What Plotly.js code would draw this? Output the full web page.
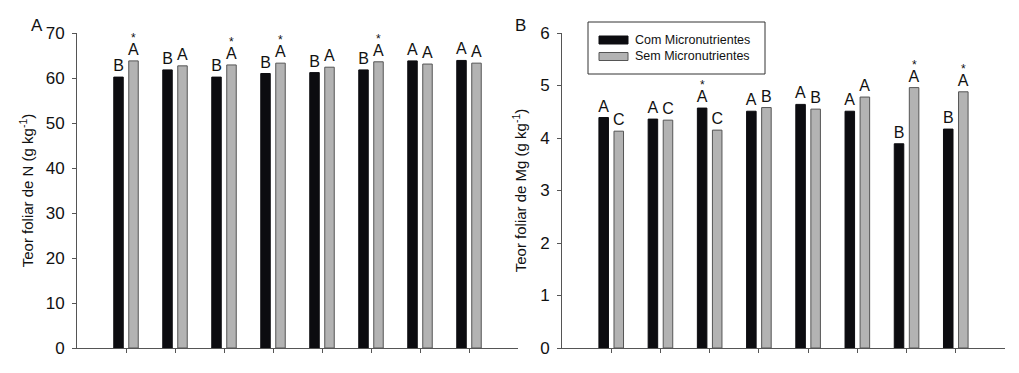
<!DOCTYPE html>
<html>
<head>
<meta charset="utf-8">
<script src="https://cdn.plot.ly/plotly-3.0.1.min.js"></script>
<style>html,body{margin:0;padding:0;background:#fff;}#chart{width:1019px;height:373px;}</style>
</head>
<body>
<div id="chart"></div>
<script>
// ---- data ----
const categories = [1, 2, 3, 4, 5, 6, 7, 8];
const seriesNames = ["Com Micronutrientes", "Sem Micronutrientes"];

const nCom = [60.2, 61.8, 60.2, 61.0, 61.2, 61.8, 63.8, 63.9];
const nSem = [63.8, 62.7, 62.9, 63.3, 62.4, 63.6, 63.1, 63.3];
const nComLetters = ["B", "B", "B", "B", "B", "B", "A", "A"];
const nSemLetters = ["A", "A", "A", "A", "A", "A", "A", "A"];
const nComStar = [0, 0, 0, 0, 0, 0, 0, 0];
const nSemStar = [1, 0, 1, 1, 0, 1, 0, 0];

const mgCom = [4.39, 4.36, 4.57, 4.51, 4.64, 4.51, 3.89, 4.17];
const mgSem = [4.13, 4.34, 4.15, 4.58, 4.55, 4.78, 4.96, 4.88];
const mgComLetters = ["A", "A", "A", "A", "A", "A", "B", "B"];
const mgSemLetters = ["C", "C", "C", "B", "B", "A", "A", "A"];
const mgComStar = [0, 0, 1, 0, 0, 0, 0, 0];
const mgSemStar = [0, 0, 0, 0, 0, 0, 1, 1];

const yTitleN = "Teor foliar de N (g kg<sup>-1</sup>)";
const yTitleMg = "Teor foliar de Mg (g kg<sup>-1</sup>)";

// ---- style ----
const FONT = "Liberation Sans, Arial, sans-serif";
const BLACK = "#0c0c10";
const GRAY = "#b3b3b3";
const AXIS = "#555555";
const ML = 77, MR = 14, MT = 33, MB = 25, W = 1019, H = 373;
const PW = W - ML - MR, PH = H - MT - MB;
const px = v => (v - ML) / PW;
const py = v => (H - MB - v) / PH;

function barTrace(x, y, name, color, lineColor, letters, xa, ya) {
  return {
    type: "bar", x: x, y: y, name: name, xaxis: xa, yaxis: ya,
    marker: {color: color, line: {color: lineColor, width: 1}},
    text: letters, textposition: "outside", constraintext: "none",
    textfont: {family: FONT, size: 16, color: "#111"},
    cliponaxis: false, showlegend: false, hoverinfo: "x+y"
  };
}

const data = [
  barTrace(categories, nCom, seriesNames[0], BLACK, BLACK, nComLetters, "x", "y"),
  barTrace(categories, nSem, seriesNames[1], GRAY, "#555", nSemLetters, "x", "y"),
  barTrace(categories, mgCom, seriesNames[0], BLACK, BLACK, mgComLetters, "x2", "y2"),
  barTrace(categories, mgSem, seriesNames[1], GRAY, "#555", mgSemLetters, "x2", "y2")
];

const annotations = [];
function stars(vals, flags, shift, xr, yr) {
  vals.forEach((v, i) => {
    if (flags[i]) annotations.push({
      x: categories[i], y: v, xref: xr, yref: yr, xshift: shift, yshift: 14,
      text: "*", showarrow: false, yanchor: "bottom",
      font: {family: FONT, size: 12, color: "#111"}
    });
  });
}
stars(nCom, nComStar, -7.5, "x", "y");
stars(nSem, nSemStar, 7.5, "x", "y");
stars(mgCom, mgComStar, -7.5, "x2", "y2");
stars(mgSem, mgSemStar, 7.5, "x2", "y2");

annotations.push({x: px(37), y: py(25), xref: "paper", yref: "paper", text: "A", showarrow: false,
  font: {family: FONT, size: 17, color: "#111"}, xanchor: "center", yanchor: "middle"});
annotations.push({x: px(520), y: py(25), xref: "paper", yref: "paper", text: "B", showarrow: false,
  font: {family: FONT, size: 17, color: "#111"}, xanchor: "center", yanchor: "middle"});

// custom legend
const shapes = [
  {type: "rect", xref: "paper", yref: "paper", x0: px(588), x1: px(765), y0: py(74), y1: py(22),
   line: {color: "#333", width: 1}, fillcolor: "rgba(0,0,0,0)"},
  {type: "rect", xref: "paper", yref: "paper", x0: px(599), x1: px(628), y0: py(44), y1: py(36),
   line: {color: BLACK, width: 1}, fillcolor: BLACK},
  {type: "rect", xref: "paper", yref: "paper", x0: px(599), x1: px(628), y0: py(60.5), y1: py(52.5),
   line: {color: "#555", width: 1}, fillcolor: GRAY}
];
annotations.push({x: px(633), y: py(40), xref: "paper", yref: "paper", text: seriesNames[0], showarrow: false,
  xanchor: "left", yanchor: "middle", font: {family: FONT, size: 12.5, color: "#111"}});
annotations.push({x: px(633), y: py(56.5), xref: "paper", yref: "paper", text: seriesNames[1], showarrow: false,
  xanchor: "left", yanchor: "middle", font: {family: FONT, size: 12.5, color: "#111"}});

const xBase = {
  range: [0, 9], tickvals: categories, showticklabels: false, ticks: "outside", ticklen: 4,
  tickcolor: AXIS, showline: true, linecolor: AXIS, linewidth: 1, showgrid: false, zeroline: false,
  fixedrange: true
};
const yBase = {
  ticks: "outside", ticklen: 4, tickcolor: AXIS, showline: true, linecolor: AXIS, linewidth: 1,
  showgrid: false, zeroline: false, ticklabelstandoff: 4,
  tickfont: {family: FONT, size: 17, color: "#111"}
};

const layout = {
  width: W, height: H,
  margin: {l: ML, r: MR, t: MT, b: MB},
  paper_bgcolor: "#fff", plot_bgcolor: "#fff",
  barmode: "group", bargap: 0.388, bargroupgap: 0.367,
  showlegend: false,
  font: {family: FONT, color: "#111"},
  xaxis: Object.assign({}, xBase, {domain: [0, px(518)], anchor: "y"}),
  xaxis2: Object.assign({}, xBase, {domain: [px(562), 1], anchor: "y2"}),
  yaxis: Object.assign({}, yBase, {range: [0, 70], dtick: 10, anchor: "x",
    title: {text: yTitleN, font: {family: FONT, size: 15, color: "#111"}, standoff: 8}}),
  yaxis2: Object.assign({}, yBase, {range: [0, 6], dtick: 1, anchor: "x2",
    title: {text: yTitleMg, font: {family: FONT, size: 15, color: "#111"}, standoff: 9}}),
  annotations: annotations,
  shapes: shapes
};

Plotly.newPlot("chart", data, layout, {displayModeBar: false, staticPlot: true});
</script>
</body>
</html>
